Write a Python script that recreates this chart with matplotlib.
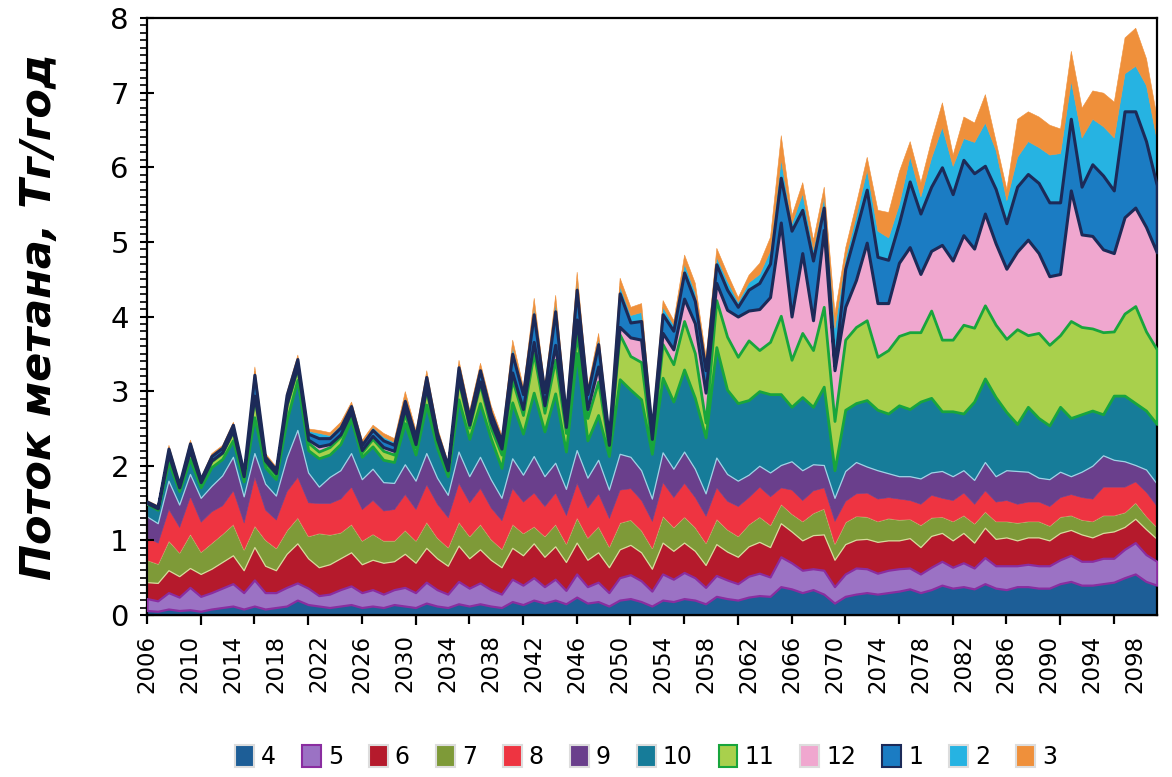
import numpy as np
import matplotlib
matplotlib.use("Agg")
import matplotlib.pyplot as plt
from matplotlib.patches import Patch
from matplotlib.ticker import MultipleLocator, FixedLocator

# Methane flux by region, Tg/yr, 2006-2100
years = np.arange(2006, 2101)

s4 = [.06, .05, .08, .06, .07, .05, .08, .10, .12, .08,
      .12, .08, .10, .12, .20, .14, .12, .10, .12, .14,
      .10, .12, .10, .14, .12, .10, .16, .12, .10, .15,
      .12, .15, .12, .10, .18, .14, .20, .16, .20, .15,
      .24, .16, .18, .12, .20, .22, .18, .12, .20, .18,
      .22, .20, .15, .25, .22, .20, .24, .26, .25, .38,
      .35, .30, .34, .28, .16, .25, .28, .30, .28, .30,
      .32, .35, .30, .34, .40, .36, .38, .35, .42, .36,
      .34, .38, .38, .36, .36, .42, .45, .40, .40, .42,
      .44, .50, .55, .45, .40]
s5 = [.16, .14, .22, .18, .30, .20, .22, .26, .30, .22,
      .35, .22, .20, .25, .23, .22, .14, .18, .22, .25,
      .20, .22, .18, .20, .25, .20, .28, .22, .18, .30,
      .24, .28, .22, .18, .30, .26, .30, .22, .28, .18,
      .31, .22, .26, .18, .30, .32, .28, .20, .35, .30,
      .35, .30, .22, .28, .25, .22, .28, .30, .26, .40,
      .35, .30, .28, .32, .22, .30, .35, .32, .28, .30,
      .30, .28, .25, .30, .32, .28, .32, .28, .35, .30,
      .32, .28, .30, .30, .30, .32, .35, .32, .32, .34,
      .32, .38, .42, .36, .32]
s6 = [.22, .24, .30, .28, .26, .30, .32, .35, .38, .30,
      .44, .36, .30, .45, .53, .40, .38, .40, .42, .45,
      .38, .40, .42, .38, .45, .40, .46, .42, .38, .48,
      .40, .45, .40, .36, .42, .40, .46, .40, .44, .38,
      .42, .36, .40, .34, .38, .40, .38, .30, .42, .38,
      .40, .36, .30, .42, .38, .36, .40, .42, .40, .45,
      .42, .40, .45, .48, .36, .40, .38, .40, .42, .40,
      .38, .40, .36, .42, .38, .36, .40, .34, .40, .36,
      .38, .34, .36, .38, .34, .36, .34, .36, .32, .34,
      .36, .30, .32, .34, .30]
s7 = [.30, .26, .40, .32, .46, .30, .35, .38, .42, .28,
      .29, .35, .30, .32, .35, .30, .46, .40, .35, .38,
      .32, .35, .30, .28, .32, .30, .35, .28, .25, .32,
      .30, .34, .28, .25, .32, .30, .23, .28, .30, .25,
      .34, .30, .35, .28, .36, .34, .30, .28, .36, .32,
      .35, .32, .30, .34, .30, .28, .30, .34, .30, .26,
      .24, .26, .30, .35, .22, .30, .32, .30, .28, .30,
      .28, .26, .30, .25, .22, .26, .24, .26, .22, .24,
      .22, .24, .22, .22, .20, .22, .20, .20, .22, .24,
      .22, .20, .22, .18, .16]
s8 = [.30, .28, .42, .34, .50, .40, .42, .38, .45, .36,
      .65, .40, .38, .52, .54, .45, .40, .42, .45, .50,
      .42, .45, .40, .42, .48, .42, .50, .45, .40, .52,
      .45, .48, .42, .38, .48, .42, .45, .40, .42, .38,
      .46, .40, .44, .38, .44, .42, .40, .36, .45, .40,
      .45, .40, .36, .42, .38, .40, .36, .40, .38, .22,
      .32, .28, .30, .28, .30, .28, .30, .32, .30, .28,
      .28, .25, .28, .30, .25, .28, .30, .26, .28, .26,
      .28, .25, .26, .26, .26, .26, .28, .30, .30, .38,
      .38, .34, .28, .32, .28]
s9 = [.28, .26, .38, .30, .30, .32, .34, .40, .45, .35,
      .32, .35, .32, .45, .63, .40, .22, .35, .38, .45,
      .40, .42, .38, .35, .40, .38, .42, .35, .30, .42,
      .35, .42, .38, .30, .40, .36, .49, .40, .40, .35,
      .44, .40, .45, .38, .48, .42, .40, .30, .40, .38,
      .42, .38, .30, .40, .36, .34, .30, .28, .32, .30,
      .38, .40, .35, .30, .31, .40, .42, .35, .38, .32,
      .30, .32, .34, .30, .36, .32, .30, .32, .38, .34,
      .40, .44, .40, .32, .36, .34, .24, .34, .44, .42,
      .36, .34, .22, .30, .30]
s10 = [.17, .18, .25, .18, .20, .14, .25, .22, .22, .20,
       .48, .22, .22, .50, .67, .30, .38, .30, .35, .45,
       .30, .30, .30, .28, .55, .35, .65, .40, .25, .70,
       .50, .72, .55, .40, .75, .55, .85, .60, .93, .50,
       1.30, .50, .60, .45, 1.00, .90, .95, .60, 1.00, .90,
       1.10, .95, .75, 1.48, 1.13, 1.04, 1.00, 1.00, 1.05, .95,
       .73, .98, .77, 1.05, .37, .82, .79, .89, .81, .80,
       .95, .90, 1.03, 1.00, .80, .87, .76, 1.05, 1.12, 1.06,
       .78, .63, .87, .80, .72, .87, .78, .77, .74, .55,
       .86, .88, .83, .79, .80]
s11 = [.01, .02, .10, .05, .10, .06, .08, .08, .12, .06,
       .27, .06, .06, .20, .16, .10, .09, .10, .10, .08,
       .06, .10, .12, .10, .12, .10, .20, .08, .06, .25,
       .15, .25, .14, .18, .30, .25, .53, .25, .45, .25,
       .25, .30, .45, .10, .60, .45, .50, .10, .45, .50,
       .65, .60, .20, .63, .71, .62, .80, .55, .70, 1.05,
       .63, .86, .76, 1.07, .66, .94, 1.02, 1.07, .71, .85,
       .93, 1.03, .93, 1.17, .96, .96, 1.19, .99, .98, .97,
       .98, 1.27, .96, 1.14, 1.08, .96, 1.30, 1.17, 1.10, 1.10,
       .86, 1.10, 1.30, 1.06, 1.00]
s12 = [0, 0, 0, 0, .01, .01, .01, .01, .01, .01,
       .02, .03, .02, .02, .02, .04, .07, .04, .03, .02,
       .03, .04, .05, .05, .08, .04, .03, .04, .02, .03,
       .04, .04, .08, .08, .10, .08, .15, .10, .20, .08,
       .20, .12, .20, .05, .10, .25, .30, .10, .15, .20,
       .30, .40, .40, .23, .36, .54, .40, .55, .60, 1.25,
       .58, 1.07, .40, 1.03, .68, .44, .63, 1.04, .72, .63,
       .98, 1.14, .78, .80, 1.27, 1.06, 1.20, 1.06, 1.23, 1.09,
       .94, 1.04, 1.28, 1.07, .92, .82, 1.75, 1.24, 1.24, 1.11,
       1.05, 1.29, 1.32, 1.40, 1.30]
s1 = [.02, .02, .08, .04, .10, .04, .06, .06, .08, .05,
      .28, .05, .05, .12, .10, .08, .11, .08, .09, .08,
      .07, .08, .09, .08, .10, .10, .14, .08, .06, .15,
      .10, .15, .12, .10, .25, .20, .37, .18, .45, .15,
      .40, .20, .30, .10, .45, .20, .25, .12, .25, .25,
      .35, .30, .30, .25, .27, .13, .28, .35, .45, .60,
      1.15, .58, .80, .30, .07, .51, .67, .71, .62, .58,
      .53, .88, .81, .86, 1.04, .89, 1.01, 1.01, .64, .73,
      .61, .87, .88, .94, .99, .96, .96, .64, .96, .99,
      .84, 1.42, 1.29, 1.15, .90]
s2 = [.01, .01, .02, .01, .02, .01, .02, .02, .02, .02,
      .05, .03, .02, .02, .02, .04, .07, .04, .04, .03,
      .03, .04, .05, .04, .05, .04, .04, .04, .02, .04,
      .04, .04, .04, .03, .10, .05, .10, .05, .12, .05,
      .12, .05, .08, .03, .10, .10, .12, .05, .10, .08,
      .12, .12, .10, .10, .12, .07, .10, .12, .18, .25,
      .10, .22, .15, .15, .50, .15, .20, .27, .35, .30,
      .26, .34, .23, .39, .54, .38, .29, .42, .58, .52,
      .31, .40, .44, .48, .64, .66, .51, .66, .61, .66,
      .71, .51, .61, .75, .60]
s3 = [.01, .01, .03, .02, .03, .02, .02, .02, .02, .02,
      .06, .02, .02, .03, .04, .03, .04, .04, .04, .03,
      .04, .03, .05, .05, .08, .05, .05, .04, .03, .06,
      .06, .06, .06, .05, .09, .05, .12, .04, .10, .05,
      .12, .05, .07, .03, .11, .11, .12, .04, .09, .06,
      .12, .12, .08, .12, .10, .06, .10, .15, .18, .32,
      .11, .15, .13, .13, .20, .14, .16, .17, .28, .34,
      .44, .20, .19, .24, .33, .15, .29, .26, .38, .12,
      .15, .51, .40, .41, .40, .33, .40, .40, .38, .45,
      .48, .48, .51, .36, .30]

labels = ["4", "5", "6", "7", "8", "9", "10", "11", "12", "1", "2", "3"]
series = [s4, s5, s6, s7, s8, s9, s10, s11, s12, s1, s2, s3]
colors = ["#1d5e97", "#9b72c4", "#b51a2c", "#7e9a38", "#ee3441", "#6a3f8c",
          "#167c99", "#a9d04c", "#f0a7cf", "#1b7cc3", "#26b3e2", "#ef903b"]
edges = ["#1d5e97", "#8a2da0", "#b51a2c", "#d6dc9c", "#ee3441", "#6a3f8c",
         "#9fd3e6", "#18a53c", "#f0a7cf", "#1c2a58", "#26b3e2", "#ef903b"]
widths = [0.4, 1.6, 0.4, 0.9, 0.4, 0.4, 0.9, 2.0, 0.4, 2.2, 0.4, 0.4]
outlined = ("5", "11", "1")

fig = plt.figure(figsize=(11.72, 7.77), dpi=100)
ax = fig.add_axes([0.1254, 0.2085, 0.8616, 0.7683])

polys = ax.stackplot(years, *series, colors=colors)
for p, ec, lw, lab in zip(polys, edges, widths, labels):
    p.set_edgecolor(ec)
    p.set_linewidth(lw)
    if lab in outlined:
        p.set_zorder(3)

ax.set_xlim(2006, 2100)
ax.set_ylim(0, 8)

# y axis
ax.yaxis.set_major_locator(MultipleLocator(1))
ax.yaxis.set_minor_locator(MultipleLocator(0.1))
ax.tick_params(axis="y", which="major", direction="inout", length=10, width=1.5,
               labelsize=21, pad=8)
ax.tick_params(axis="y", which="minor", direction="out", length=5, width=1.2)
ax.set_ylabel("Поток метана, Тг/год", fontsize=31, fontweight="bold",
              fontstyle="italic", labelpad=36)

# x labels every 4 years, tick marks every 5 / 10 years
ax.set_xticks(np.arange(2006, 2100, 4))
ax.set_xticklabels([str(y) for y in range(2006, 2100, 4)], rotation=90,
                   fontsize=16.5)
ax.tick_params(axis="x", which="major", length=0, pad=14)
sec = ax.secondary_xaxis("bottom")
sec.xaxis.set_major_locator(FixedLocator(np.arange(2006, 2101, 10)))
sec.xaxis.set_minor_locator(FixedLocator(np.arange(2011, 2101, 10)))
sec.tick_params(which="major", direction="inout", length=13, width=1.6,
                labelbottom=False)
sec.tick_params(which="minor", direction="out", length=7, width=1.6)
sec.spines["bottom"].set_linewidth(1.6)

for s in ax.spines.values():
    s.set_linewidth(1.6)

handles = [Patch(facecolor=c, edgecolor=e if lab in outlined else "#dddddd",
                 linewidth=1.5, label=lab)
           for c, e, lab in zip(colors, edges, labels)]
fig.legend(handles=handles, loc="center", bbox_to_anchor=(0.551, 0.026), ncol=12,
           frameon=False, fontsize=17, handlelength=0.8, handleheight=1.1,
           handletextpad=0.3, columnspacing=1.1)

fig.savefig("out.png", dpi=100)
